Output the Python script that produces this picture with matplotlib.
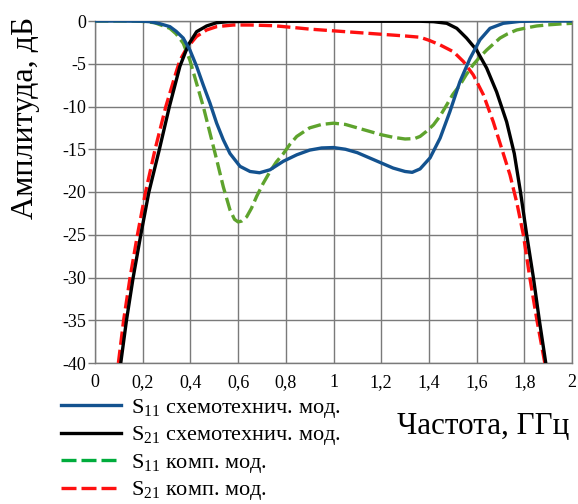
import matplotlib
matplotlib.use("Agg")
import matplotlib.pyplot as plt
from matplotlib.lines import Line2D

plt.rcParams['font.family'] = ['Liberation Serif', 'DejaVu Serif']
plt.rcParams['mathtext.fontset'] = 'custom'
plt.rcParams['mathtext.rm'] = 'Liberation Serif'
plt.rcParams['mathtext.it'] = 'Liberation Serif'

# S11, circuit model
s11_sch_f = [0, 0.1, 0.2, 0.23, 0.27, 0.314, 0.34, 0.37, 0.398, 0.426, 0.454, 0.482, 0.51,
             0.538, 0.566, 0.608, 0.65, 0.69, 0.734, 0.79, 0.846, 0.9, 0.95, 1.0, 1.05, 1.1,
             1.15, 1.2, 1.25, 1.3, 1.33, 1.363, 1.405, 1.447, 1.488, 1.53, 1.572, 1.614,
             1.656, 1.712, 1.78, 1.85, 2.0]
s11_sch_db = [0, 0, -0.03, -0.08, -0.3, -0.66, -1.2, -2.0, -3.4, -5.3, -7.5, -9.6, -11.95,
              -13.9, -15.5, -17.0, -17.6, -17.75, -17.4, -16.4, -15.65, -15.1, -14.85, -14.8,
              -15.0, -15.4, -16.0, -16.6, -17.2, -17.6, -17.7, -17.3, -16.0, -13.7, -10.6,
              -7.1, -4.4, -2.2, -0.86, -0.27, -0.05, 0, 0]

# S21, circuit model
s21_sch_f = [0.108, 0.132, 0.16, 0.192, 0.226, 0.27, 0.312, 0.356, 0.391, 0.426, 0.468, 0.51,
             0.56, 0.65, 0.9, 1.2, 1.363, 1.42, 1.475, 1.517, 1.558, 1.6, 1.642, 1.684,
             1.726, 1.758, 1.784, 1.81, 1.838, 1.863, 1.89]
s21_sch_db = [-40, -35, -30, -25, -20, -15, -10, -5.3, -2.8, -1.25, -0.58, -0.2, -0.08, -0.04,
              -0.03, -0.03, -0.03, -0.08, -0.27, -0.86, -2.0, -3.4, -5.5, -8.3, -11.8, -15.5,
              -20, -25, -30, -35, -40]

# S11, full-wave model
s11_cmp_f = [0, 0.15, 0.2, 0.25, 0.314, 0.34, 0.37, 0.398, 0.426, 0.454, 0.482, 0.51, 0.538,
             0.566, 0.585, 0.6, 0.615, 0.636, 0.656, 0.678, 0.705, 0.734, 0.76, 0.79, 0.818,
             0.846, 0.9, 0.95, 1.0, 1.05, 1.1, 1.15, 1.2, 1.25, 1.3, 1.34, 1.363, 1.39, 1.419,
             1.447, 1.475, 1.5, 1.53, 1.556, 1.586, 1.614, 1.642, 1.67, 1.698, 1.73, 1.768,
             1.81, 1.852, 1.9, 1.95, 2.0]
s11_cmp_db = [0, 0, -0.05, -0.2, -0.86, -1.5, -2.6, -4.6, -7.3, -10.0, -13.1, -16.2, -19.4,
              -22.1, -23.2, -23.5, -23.4, -22.9, -21.9, -20.5, -19.0, -17.6, -16.5, -15.5,
              -14.4, -13.5, -12.5, -12.1, -11.95, -12.1, -12.5, -12.9, -13.3, -13.6, -13.8,
              -13.75, -13.5, -12.9, -12.15, -11.1, -9.8, -8.6, -7.5, -6.3, -5.1, -4.2, -3.4,
              -2.7, -2.0, -1.5, -1.05, -0.8, -0.58, -0.45, -0.35, -0.27]

# S21, full-wave model
s21_cmp_f = [0.098, 0.12, 0.147, 0.178, 0.212, 0.252, 0.297, 0.34, 0.356, 0.384, 0.426,
             0.468, 0.51, 0.58, 0.65, 0.75, 0.846, 0.9, 1.0, 1.1, 1.2, 1.3, 1.363, 1.4, 1.447,
             1.503, 1.545, 1.586, 1.628, 1.67, 1.705, 1.74, 1.769, 1.796, 1.823, 1.853, 1.886]
s21_cmp_db = [-40, -35, -30, -25, -20, -15, -10, -6.0, -4.6, -3.2, -1.8, -1.05, -0.66, -0.47,
              -0.47, -0.55, -0.8, -0.95, -1.15, -1.35, -1.55, -1.75, -1.9, -2.25, -2.8, -3.6,
              -4.75, -6.3, -8.6, -11.8, -14.9, -18.0, -21.3, -25, -30, -35, -40]

x_ticks = [0, 0.2, 0.4, 0.6, 0.8, 1.0, 1.2, 1.4, 1.6, 1.8, 2.0]
x_tick_labels = ['0', '0,2', '0,4', '0,6', '0,8', '1', '1,2', '1,4', '1,6', '1,8', '2']
y_ticks = [0, -5, -10, -15, -20, -25, -30, -35, -40]

labels = [r'S$_{11}$ схемотехнич. мод.', r'S$_{21}$ схемотехнич. мод.',
          r'S$_{11}$ комп. мод.', r'S$_{21}$ комп. мод.']

blue = '#13528f'
green = '#5ea32d'
red = '#ff1010'
grid_gray = '#7a7a7a'

fig = plt.figure(figsize=(5.78, 5.04), dpi=100)
ax = fig.add_axes([95 / 578, 1 - 363 / 504, 477 / 578, 342 / 504])

lw = 2.4
ax.plot(s21_cmp_f, s21_cmp_db, color=red, lw=lw, dashes=(4, 1.5), zorder=3)
ax.plot(s11_cmp_f, s11_cmp_db, color=green, lw=lw, dashes=(4, 1.5), zorder=3)
ax.plot(s21_sch_f, s21_sch_db, color='black', lw=lw, zorder=4)
ax.plot(s11_sch_f, s11_sch_db, color=blue, lw=lw, zorder=5)

ax.set_xlim(0, 2)
ax.set_ylim(-40, 0)
ax.set_xticks(x_ticks)
ax.set_xticklabels(x_tick_labels)
ax.set_yticks(y_ticks)
ax.set_yticklabels([str(v) for v in y_ticks])
ax.tick_params(axis='x', length=0, labelsize=13, pad=8)
ax.tick_params(axis='y', length=5, width=1, color=grid_gray, labelsize=13, pad=1.5)
ax.grid(True, color=grid_gray, lw=1.0)
for s in ax.spines.values():
    s.set_color(grid_gray)
    s.set_linewidth(1.0)
ax.set_axisbelow(True)

fig.text(26 / 578, 1 - 118 / 504, 'Амплитуда, дБ', rotation=90, fontsize=23,
         ha='center', va='center')
fig.text(483 / 578, 1 - 426 / 504, 'Частота, ГГц', fontsize=22.4, ha='center', va='center')

handles = [Line2D([], [], color=blue, lw=lw),
           Line2D([], [], color='black', lw=lw),
           Line2D([], [], color='#00ac3c', lw=lw, dashes=(4.5, 1.5)),
           Line2D([], [], color=red, lw=lw, dashes=(4.5, 1.5))]
fig.legend(handles, labels, loc='upper left', bbox_to_anchor=(61 / 578, 1 - 397 / 504),
           frameon=False, fontsize=16, handlelength=2.7, handletextpad=0.45,
           labelspacing=0.2, borderaxespad=0, borderpad=0)

fig.savefig('out.png', dpi=100)
